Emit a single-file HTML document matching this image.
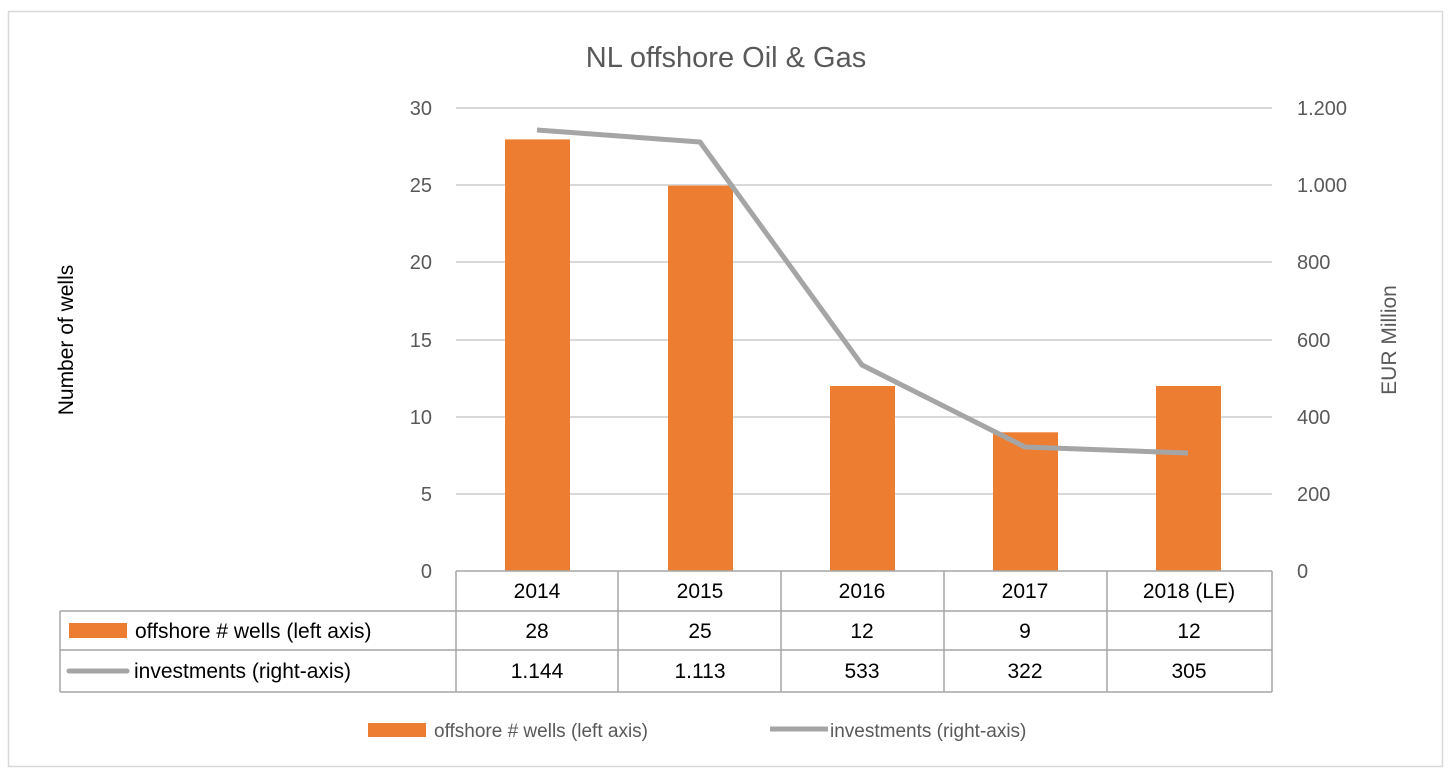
<!DOCTYPE html>
<html><head><meta charset="utf-8"><style>
html,body{margin:0;padding:0;background:#fff;}
svg{display:block;font-family:"Liberation Sans",sans-serif;}
</style></head><body>
<svg width="1453" height="775" viewBox="0 0 1453 775">
<rect x="8.5" y="11.5" width="1434" height="755" fill="#fff" stroke="#d9d9d9" stroke-width="1.5"/>
<text x="726" y="67" font-size="29" fill="#595959" text-anchor="middle">NL offshore Oil &amp; Gas</text>
<g stroke="#d9d9d9" stroke-width="2">
<line x1="456" y1="108" x2="1272" y2="108"/>
<line x1="456" y1="185" x2="1272" y2="185"/>
<line x1="456" y1="262" x2="1272" y2="262"/>
<line x1="456" y1="340" x2="1272" y2="340"/>
<line x1="456" y1="417" x2="1272" y2="417"/>
<line x1="456" y1="494" x2="1272" y2="494"/>
</g>
<g fill="#595959" font-size="20" text-anchor="end">
<text x="432" y="115">30</text><text x="432" y="192">25</text><text x="432" y="269">20</text>
<text x="432" y="347">15</text><text x="432" y="424">10</text><text x="432" y="501">5</text><text x="432" y="578">0</text>
</g>
<g fill="#595959" font-size="20" text-anchor="start">
<text x="1297" y="115">1.200</text><text x="1297" y="192">1.000</text><text x="1297" y="269">800</text>
<text x="1297" y="347">600</text><text x="1297" y="424">400</text><text x="1297" y="501">200</text><text x="1297" y="578">0</text>
</g>
<text transform="translate(73,340) rotate(-90)" font-size="21" fill="#000" text-anchor="middle">Number of wells</text>
<text transform="translate(1396,340) rotate(-90)" font-size="21" fill="#595959" text-anchor="middle">EUR Million</text>
<g fill="#ed7d31">
<rect x="505" y="139.4" width="65" height="431.6"/>
<rect x="668" y="185.6" width="65" height="385.4"/>
<rect x="830" y="386" width="65" height="185"/>
<rect x="993" y="432.3" width="65" height="138.7"/>
<rect x="1156" y="386" width="65" height="185"/>
</g>
<polyline points="537,130 700,142 862,365 1025,447 1188,453" fill="none" stroke="#a5a5a5" stroke-width="5" stroke-linejoin="round"/>
<g stroke="#a6a6a6" stroke-width="1.5" fill="none">
<line x1="456" y1="571" x2="1272" y2="571"/>
<line x1="60" y1="611" x2="1272" y2="611"/>
<line x1="60" y1="650" x2="1272" y2="650"/>
<line x1="60" y1="692" x2="1272" y2="692"/>
<line x1="60" y1="611" x2="60" y2="692"/>
<line x1="456" y1="571" x2="456" y2="692"/>
<line x1="618" y1="571" x2="618" y2="692"/>
<line x1="781" y1="571" x2="781" y2="692"/>
<line x1="944" y1="571" x2="944" y2="692"/>
<line x1="1107" y1="571" x2="1107" y2="692"/>
<line x1="1272" y1="571" x2="1272" y2="692"/>
</g>
<g font-size="21" fill="#000" text-anchor="middle">
<text x="537" y="598">2014</text><text x="700" y="598">2015</text><text x="862" y="598">2016</text><text x="1025" y="598">2017</text><text x="1189" y="598">2018 (LE)</text>
<text x="537" y="638">28</text><text x="700" y="638">25</text><text x="862" y="638">12</text><text x="1025" y="638">9</text><text x="1189" y="638">12</text>
<text x="537" y="678">1.144</text><text x="700" y="678">1.113</text><text x="862" y="678">533</text><text x="1025" y="678">322</text><text x="1189" y="678">305</text>
</g>
<rect x="69" y="623" width="58" height="15" fill="#ed7d31"/>
<text x="135" y="638" font-size="21" fill="#000">offshore # wells (left axis)</text>
<line x1="69" y1="671" x2="127" y2="671" stroke="#a5a5a5" stroke-width="5" stroke-linecap="round"/>
<text x="134" y="678" font-size="21" fill="#000">investments (right-axis)</text>
<rect x="368" y="723" width="58" height="14" fill="#ed7d31"/>
<text x="434" y="737" font-size="19" fill="#595959">offshore # wells (left axis)</text>
<line x1="770" y1="729" x2="828" y2="729" stroke="#a5a5a5" stroke-width="5"/>
<text x="830" y="737" font-size="19" fill="#595959">investments (right-axis)</text>
</svg>
</body></html>
